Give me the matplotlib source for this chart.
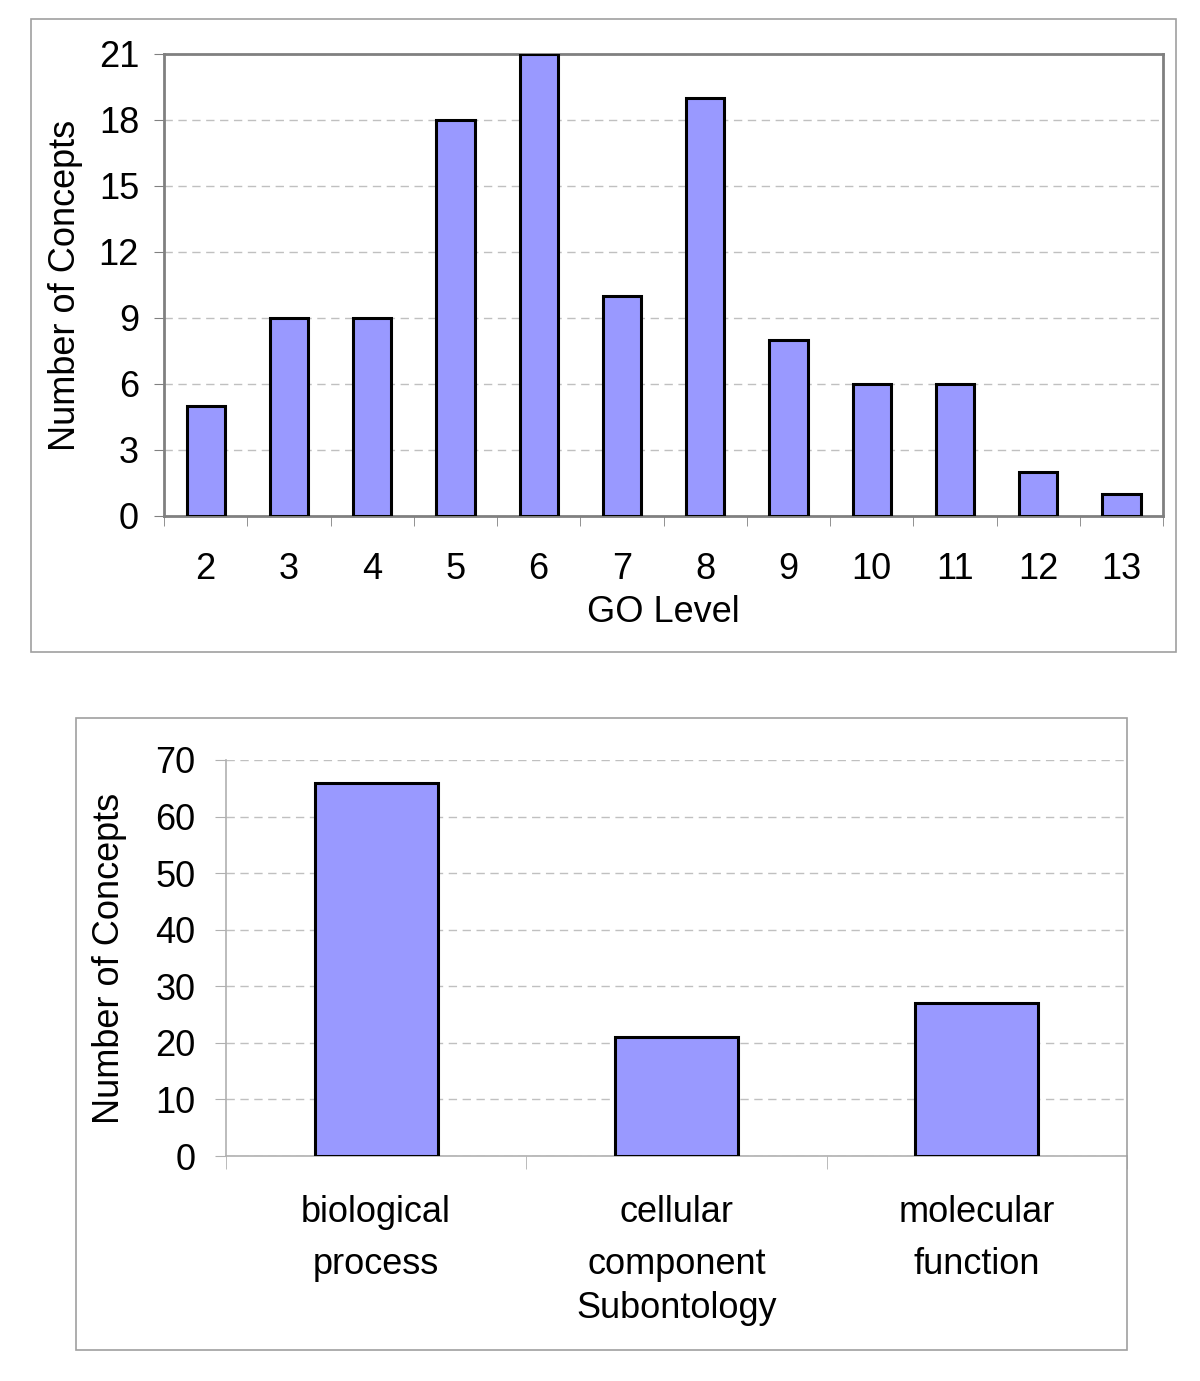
import matplotlib.pyplot as plt
from matplotlib.patches import Rectangle
import numpy as np

plt.rcParams['font.family'] = ['Liberation Sans', 'DejaVu Sans']

# top chart data
go_levels = ['2', '3', '4', '5', '6', '7', '8', '9', '10', '11', '12', '13']
level_counts = [5, 9, 9, 18, 21, 10, 19, 8, 6, 6, 2, 1]

# bottom chart data
subontologies = ['biological\nprocess', 'cellular\ncomponent', 'molecular\nfunction']
sub_counts = [66, 21, 27]

BAR = '#9999ff'
GRID = '#c0c0c0'
AXC = '#808080'
FS = 26

fig = plt.figure(figsize=(12, 13.81), dpi=100)

# outer chart frames
for x0, y0, w, h in [(0.0258, 0.5279, 0.954, 0.4584), (0.0633, 0.0225, 0.8758, 0.4576)]:
    fig.patches.append(Rectangle((x0, y0), w, h, transform=fig.transFigure,
                                 fill=False, edgecolor='#a0a0a0', lw=1.2))

# ---- top: GO level ----
ax1 = fig.add_axes([0.1367, 0.6264, 0.8325, 0.3345])
x = np.arange(len(go_levels))
ax1.bar(x, level_counts, width=0.46, color=BAR, edgecolor='black', linewidth=2.2, zorder=3)
ax1.set_xlim(-0.5, len(go_levels) - 0.5)
ax1.set_ylim(0, 21)
ax1.set_yticks(range(0, 22, 3))
ax1.set_xticks(x)
ax1.set_xticklabels(go_levels)
ax1.set_xticks(np.arange(-0.5, len(go_levels), 1), minor=True)
ax1.tick_params(axis='x', which='major', length=0, pad=26, labelsize=FS)
ax1.tick_params(axis='x', which='minor', length=7, color=AXC, direction='out')
ax1.tick_params(axis='y', length=7, color=AXC, labelsize=FS, pad=11)
ax1.yaxis.grid(True, linestyle=(0, (6, 4)), color=GRID, lw=1, zorder=0)
for s in ax1.spines.values():
    s.set_color(AXC)
    s.set_linewidth(2)
ax1.set_xlabel('GO Level', fontsize=FS, va='center')
ax1.xaxis.set_label_coords(0.5, -0.208)
ax1.set_ylabel('Number of Concepts', fontsize=FS, va='center')
ax1.yaxis.set_label_coords(-0.099, 0.5)

# ---- bottom: subontology ----
ax2 = fig.add_axes([0.1883, 0.1629, 0.7508, 0.2868])
x2 = np.arange(len(subontologies))
ax2.bar(x2, sub_counts, width=0.41, color=BAR, edgecolor='black', linewidth=2.2, zorder=3)
ax2.set_xlim(-0.5, len(subontologies) - 0.5)
ax2.set_ylim(0, 70)
ax2.set_yticks(range(0, 71, 10))
ax2.set_xticks(x2)
ax2.set_xticklabels(subontologies, linespacing=1.65)
ax2.set_xticks(np.arange(-0.5, len(subontologies), 1), minor=True)
ax2.tick_params(axis='x', which='major', length=0, pad=28, labelsize=FS)
ax2.tick_params(axis='x', which='minor', length=9, color='#b0b0b0', direction='out')
ax2.tick_params(axis='y', length=8, color='#b0b0b0', labelsize=FS, pad=14)
ax2.yaxis.grid(True, linestyle=(0, (6, 4)), color=GRID, lw=1, zorder=0)
for side in ['top', 'right']:
    ax2.spines[side].set_visible(False)
for side in ['left', 'bottom']:
    ax2.spines[side].set_color('#b0b0b0')
    ax2.spines[side].set_linewidth(1.2)
ax2.set_xlabel('Subontology', fontsize=FS, va='center')
ax2.xaxis.set_label_coords(0.5, -0.386)
ax2.set_ylabel('Number of Concepts', fontsize=FS, va='center')
ax2.yaxis.set_label_coords(-0.129, 0.5)

fig.savefig('out.png', dpi=100)
